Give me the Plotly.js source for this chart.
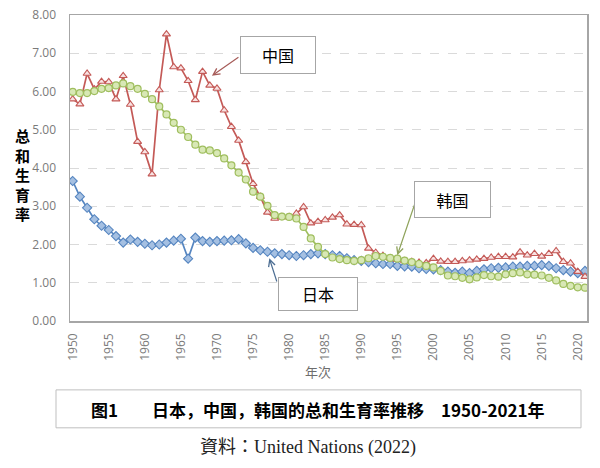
<!DOCTYPE html>
<html>
<head>
<meta charset="utf-8">
<script src="https://cdn.plot.ly/plotly-3.0.1.min.js"></script>
<style>html,body{margin:0;padding:0;background:#fff;}#chart{width:600px;height:468px;}</style>
</head>
<body>
<div id="chart"></div>
<script>
const years = [1950,1951,1952,1953,1954,1955,1956,1957,1958,1959,
  1960,1961,1962,1963,1964,1965,1966,1967,1968,1969,
  1970,1971,1972,1973,1974,1975,1976,1977,1978,1979,
  1980,1981,1982,1983,1984,1985,1986,1987,1988,1989,
  1990,1991,1992,1993,1994,1995,1996,1997,1998,1999,
  2000,2001,2002,2003,2004,2005,2006,2007,2008,2009,
  2010,2011,2012,2013,2014,2015,2016,2017,2018,2019,
  2020,2021];

const japan = [3.66,3.25,2.96,2.66,2.49,2.38,2.22,2.05,2.13,2.07,
  2.02,1.98,2.00,2.05,2.10,2.15,1.63,2.18,2.09,2.07,
  2.09,2.10,2.11,2.14,2.03,1.91,1.85,1.81,1.77,1.75,
  1.72,1.70,1.72,1.75,1.77,1.75,1.72,1.70,1.64,1.59,
  1.57,1.54,1.51,1.49,1.49,1.44,1.43,1.42,1.38,1.36,
  1.35,1.33,1.29,1.26,1.29,1.25,1.31,1.35,1.38,1.39,
  1.40,1.42,1.42,1.44,1.44,1.46,1.44,1.38,1.33,1.29,
  1.25,1.31];

const china = [5.80,5.67,6.47,6.06,6.26,6.25,5.80,6.41,5.66,4.69,
  4.42,3.84,6.04,7.50,6.64,6.61,6.28,5.78,6.52,6.16,
  6.08,5.51,5.08,4.72,4.16,3.59,3.25,2.84,2.68,2.72,
  2.72,2.81,2.98,2.56,2.60,2.64,2.71,2.77,2.53,2.52,
  2.51,1.90,1.79,1.71,1.64,1.60,1.57,1.55,1.53,1.52,
  1.63,1.56,1.55,1.55,1.57,1.59,1.61,1.63,1.66,1.68,
  1.68,1.67,1.80,1.72,1.76,1.69,1.76,1.83,1.55,1.51,
  1.29,1.16];

const korea = [5.99,5.96,5.96,6.01,6.07,6.09,6.16,6.21,6.14,6.07,
  5.94,5.80,5.61,5.40,5.18,5.00,4.81,4.61,4.48,4.46,
  4.39,4.25,4.07,3.88,3.70,3.38,3.25,3.01,2.77,2.73,
  2.72,2.68,2.46,2.16,1.94,1.75,1.66,1.62,1.59,1.57,
  1.59,1.64,1.70,1.68,1.65,1.63,1.58,1.54,1.49,1.44,
  1.40,1.31,1.19,1.17,1.13,1.09,1.14,1.20,1.17,1.16,
  1.22,1.25,1.27,1.22,1.21,1.19,1.13,1.06,0.97,0.92,
  0.88,0.87];

const xTicks = [1950,1955,1960,1965,1970,1975,1980,1985,1990,1995,2000,2005,2010,2015,2020];
const seriesNames = ['日本','中国','韩国'];
const yTitle = '总和生育率';
const xTitle = '年次';
const caption = '图1　　日本，中国，韩国的总和生育率推移　1950-2021年';
const source = '資料：United Nations (2022)';

const traces = [
  {x: years, y: japan, name: seriesNames[0], type: 'scatter', mode: 'lines+markers',
   line: {color: '#5585C0', width: 1.7},
   marker: {symbol: 'diamond', size: 7, color: '#A5C0E2', line: {color: '#5585C0', width: 1.1}}},
  {x: years, y: china, name: seriesNames[1], type: 'scatter', mode: 'lines+markers',
   line: {color: '#C45A57', width: 1.7},
   marker: {symbol: 'triangle-up', size: 7, color: '#F8E2E2', line: {color: '#C45A57', width: 1.1}}},
  {x: years, y: korea, name: seriesNames[2], type: 'scatter', mode: 'lines+markers',
   line: {color: '#9FBE5E', width: 1.7},
   marker: {symbol: 'circle', size: 7, color: '#D8E8B5', line: {color: '#9FBE5E', width: 1.2}}}
];

const L = 70, R = 587, T = 14.5, B = 321;
const px = v => (v - L) / (R - L);
const py = v => (B - v) / (B - T);

const cjk = '"Noto Sans CJK SC", "Noto Sans", sans-serif';

function labelBox(text, cx, cy, w, h) {
  return {xref: 'paper', yref: 'paper', x: px(cx), y: py(cy), xanchor: 'center', yanchor: 'middle',
    text: text, showarrow: false, width: w, height: h, borderpad: 1, borderwidth: 1,
    bordercolor: '#a6a6a6', bgcolor: '#ffffff', font: {family: cjk, size: 16, color: '#000'}};
}
function arrow(xv, yv, ax, ay, color) {
  return {xref: 'x', yref: 'y', x: xv, y: yv, ax: ax, ay: ay, text: '', showarrow: true,
    arrowhead: 5, arrowsize: 1.1, arrowwidth: 1.2, arrowcolor: color, standoff: 0, startstandoff: 0};
}

const layout = {
  width: 600, height: 468,
  margin: {l: L, r: 600 - R, t: T, b: 468 - B},
  paper_bgcolor: '#ffffff', plot_bgcolor: '#ffffff',
  showlegend: false,
  font: {family: '"Open Sans", sans-serif', color: '#6d6d6d'},
  xaxis: {range: [1949.63, 2021.28], tickvals: xTicks, ticktext: xTicks.map(String), tickangle: -90,
    showgrid: false, zeroline: false, showline: true, mirror: true, linecolor: '#a6a6a6', linewidth: 1.5,
    ticks: '', ticklabelstandoff: 6, tickfont: {size: 12, color: '#7a7a7a'}},
  yaxis: {range: [0, 8], dtick: 1, tickformat: '.2f', showgrid: true, gridcolor: '#dadada', griddash: 'dash',
    gridwidth: 1, zeroline: false, showline: true, mirror: true, linecolor: '#a6a6a6', linewidth: 1.5,
    ticks: '', ticklabelstandoff: 10, tickfont: {size: 12, color: '#7a7a7a'}},
  shapes: [
    {type: 'rect', xref: 'paper', yref: 'paper', x0: px(56), x1: px(581), y0: py(428), y1: py(390),
     line: {color: '#bfbfbf', width: 1}, fillcolor: 'rgba(0,0,0,0)'}
  ],
  annotations: [
    arrow(1969.3, 6.41, 28, -19.5, '#A65B58'),
    arrow(1994.99, 1.72, 17.7, -52, '#8FA35C'),
    arrow(1977.25, 1.64, 8, 24.7, '#4D6E93'),
    labelBox(seriesNames[1], 278, 54.5, 72, 34),
    labelBox(seriesNames[2], 452.5, 199.5, 73, 33),
    labelBox(seriesNames[0], 318, 294, 76, 30),
    {xref: 'paper', yref: 'paper', x: px(22), y: py(174), xanchor: 'center', yanchor: 'middle',
     text: yTitle.split('').join('<br>'), showarrow: false,
     font: {family: cjk, size: 15, color: '#000', weight: 'bold'}},
    {xref: 'paper', yref: 'paper', x: px(318), y: py(372), xanchor: 'center', yanchor: 'middle',
     text: xTitle, showarrow: false, font: {family: cjk, size: 13, color: '#6d6d6d'}},
    {xref: 'paper', yref: 'paper', x: px(318), y: py(410), xanchor: 'center', yanchor: 'middle',
     text: '<b>' + caption + '</b>', showarrow: false, font: {family: cjk, size: 17, color: '#000'}},
    {xref: 'paper', yref: 'paper', x: px(308), y: py(448), xanchor: 'center', yanchor: 'middle',
     text: source, showarrow: false,
     font: {family: '"Liberation Serif", "DejaVu Serif", "Noto Sans CJK JP", serif', size: 18, color: '#222'}}
  ]
};

Plotly.newPlot('chart', traces, layout, {displayModeBar: false, staticPlot: true});
</script>
</body>
</html>
